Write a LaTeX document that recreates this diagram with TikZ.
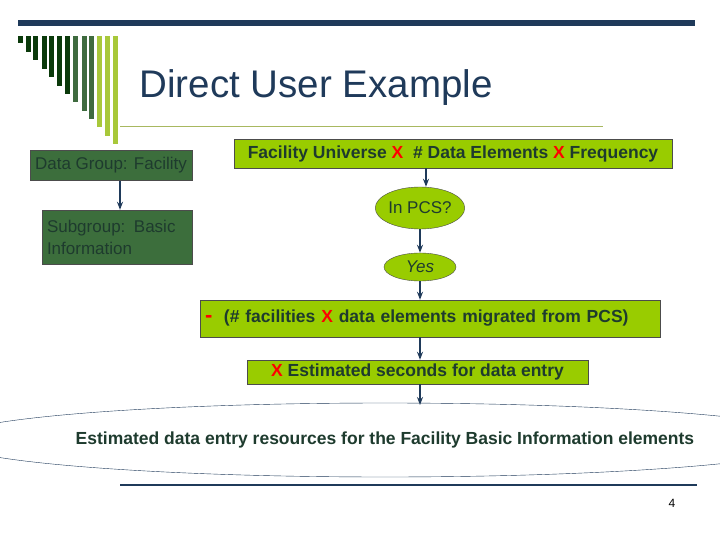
\documentclass[tikz,border=0pt]{standalone}
\usepackage{fontspec}
\setmainfont{Liberation Sans}
\usetikzlibrary{shapes.geometric, arrows.meta}
\definecolor{navy}{HTML}{1F3A5A}
\definecolor{dkgreen}{HTML}{0B3A0B}
\definecolor{mdgreen}{HTML}{3F6B3F}
\definecolor{ltgreen}{HTML}{A8C83A}
\definecolor{boxgreen}{HTML}{3C6E3C}
\definecolor{lime}{HTML}{99CC00}
\definecolor{olive}{HTML}{A8B860}
\definecolor{txt}{HTML}{1E3B2E}
\begin{document}
\begin{tikzpicture}[x=1pt, y=-1pt,
    dbox/.style={draw=black!70, fill=boxgreen, text=txt, inner sep=2pt, font=\fontsize{17}{20}\selectfont},
    lbox/.style={draw=black!70, fill=lime, text=txt, font=\bfseries\fontsize{17.5}{20}\selectfont},
    oval/.style={ellipse, draw=black!70, fill=lime, text=txt, inner sep=0pt},
    arr/.style={-{Stealth[length=8pt,width=6pt]}, navy, line width=1.5pt}
  ]
  \useasboundingbox (0,0) rectangle (720,540);
  \fill[white] (0,0) rectangle (720,540);

  % decoration
  \fill[navy] (18,20) rectangle (695,26);
  \foreach \x/\b/\c in {18/43/dkgreen, 26/52/dkgreen, 33/60/dkgreen, 42/69/dkgreen, 49/77/dkgreen, 57/86/dkgreen, 65/94/dkgreen, 73/102/mdgreen, 82/111/mdgreen, 89/119/mdgreen, 97/127/ltgreen, 105/136/ltgreen, 113/144/ltgreen}
    \fill[\c] (\x,36) rectangle ++(4.5,\b-36);
  \draw[olive, thin] (120,126) -- (603,126);
  \draw[navy, line width=1.2pt] (120,485) -- (697,485);

  \node[text=navy, font=\fontsize{38.5}{42}\selectfont, anchor=west] (title) at (136,88) {Direct User Example};
  \node[font=\fontsize{12}{14}\selectfont] (page) at (672,503) {4};

  % left boxes
  \node[dbox, minimum width=162pt, minimum height=30pt] (grp) at (111,165) {Data Group: Facility};
  \node[dbox, minimum width=150pt, minimum height=54pt, align=left, text width=140pt, font=\fontsize{17}{22}\selectfont] (sub) at (117,237) {Subgroup: Basic\\Information};
  \coordinate (gbot) at (120,181);
  \draw[arr] (gbot) -- (sub.north -| gbot);

  % flow
  \node[lbox, minimum width=438pt, minimum height=29pt] (uni) at (453,153.5) {Facility Universe \textcolor{red}{X} \ \# Data Elements \textcolor{red}{X} Frequency};
  \node[oval, minimum width=80pt, minimum height=42pt, font=\fontsize{17}{20}\selectfont] (pcs) at (420,208) {In PCS?};
  \node[oval, minimum width=72pt, minimum height=28pt, font=\itshape\fontsize{17}{20}\selectfont] (yes) at (420,267) {Yes};
  \node[lbox, minimum width=460pt, minimum height=37pt, text width=450pt, align=left] (mig) at (430,318.5) {\textcolor{red}{\fontsize{22}{22}\selectfont -}\ \ (\# facilities \textcolor{red}{X} data elements migrated from PCS)};
  \node[lbox, minimum width=341pt, minimum height=24pt] (est) at (417.5,372) {\textcolor{red}{X} Estimated seconds for data entry};
  \node[ellipse, draw=navy, minimum width=666pt, minimum height=74pt, text=txt, font=\bfseries\fontsize{17.5}{20}\selectfont, inner sep=0pt] (res) at (385,440) {Estimated data entry resources for the Facility Basic Information elements};

  \coordinate (ax) at (426,0);
  \coordinate (rtop) at (420,405);
  \draw[arr] (uni.south -| ax) -- (pcs.north -| ax);
  \draw[arr] (pcs) -- (yes);
  \draw[arr] (yes) -- (mig.north -| yes);
  \draw[arr] (mig.south -| yes) -- (est.north -| yes);
  \draw[arr] (est.south -| yes) -- (rtop);
\end{tikzpicture}
\end{document}
